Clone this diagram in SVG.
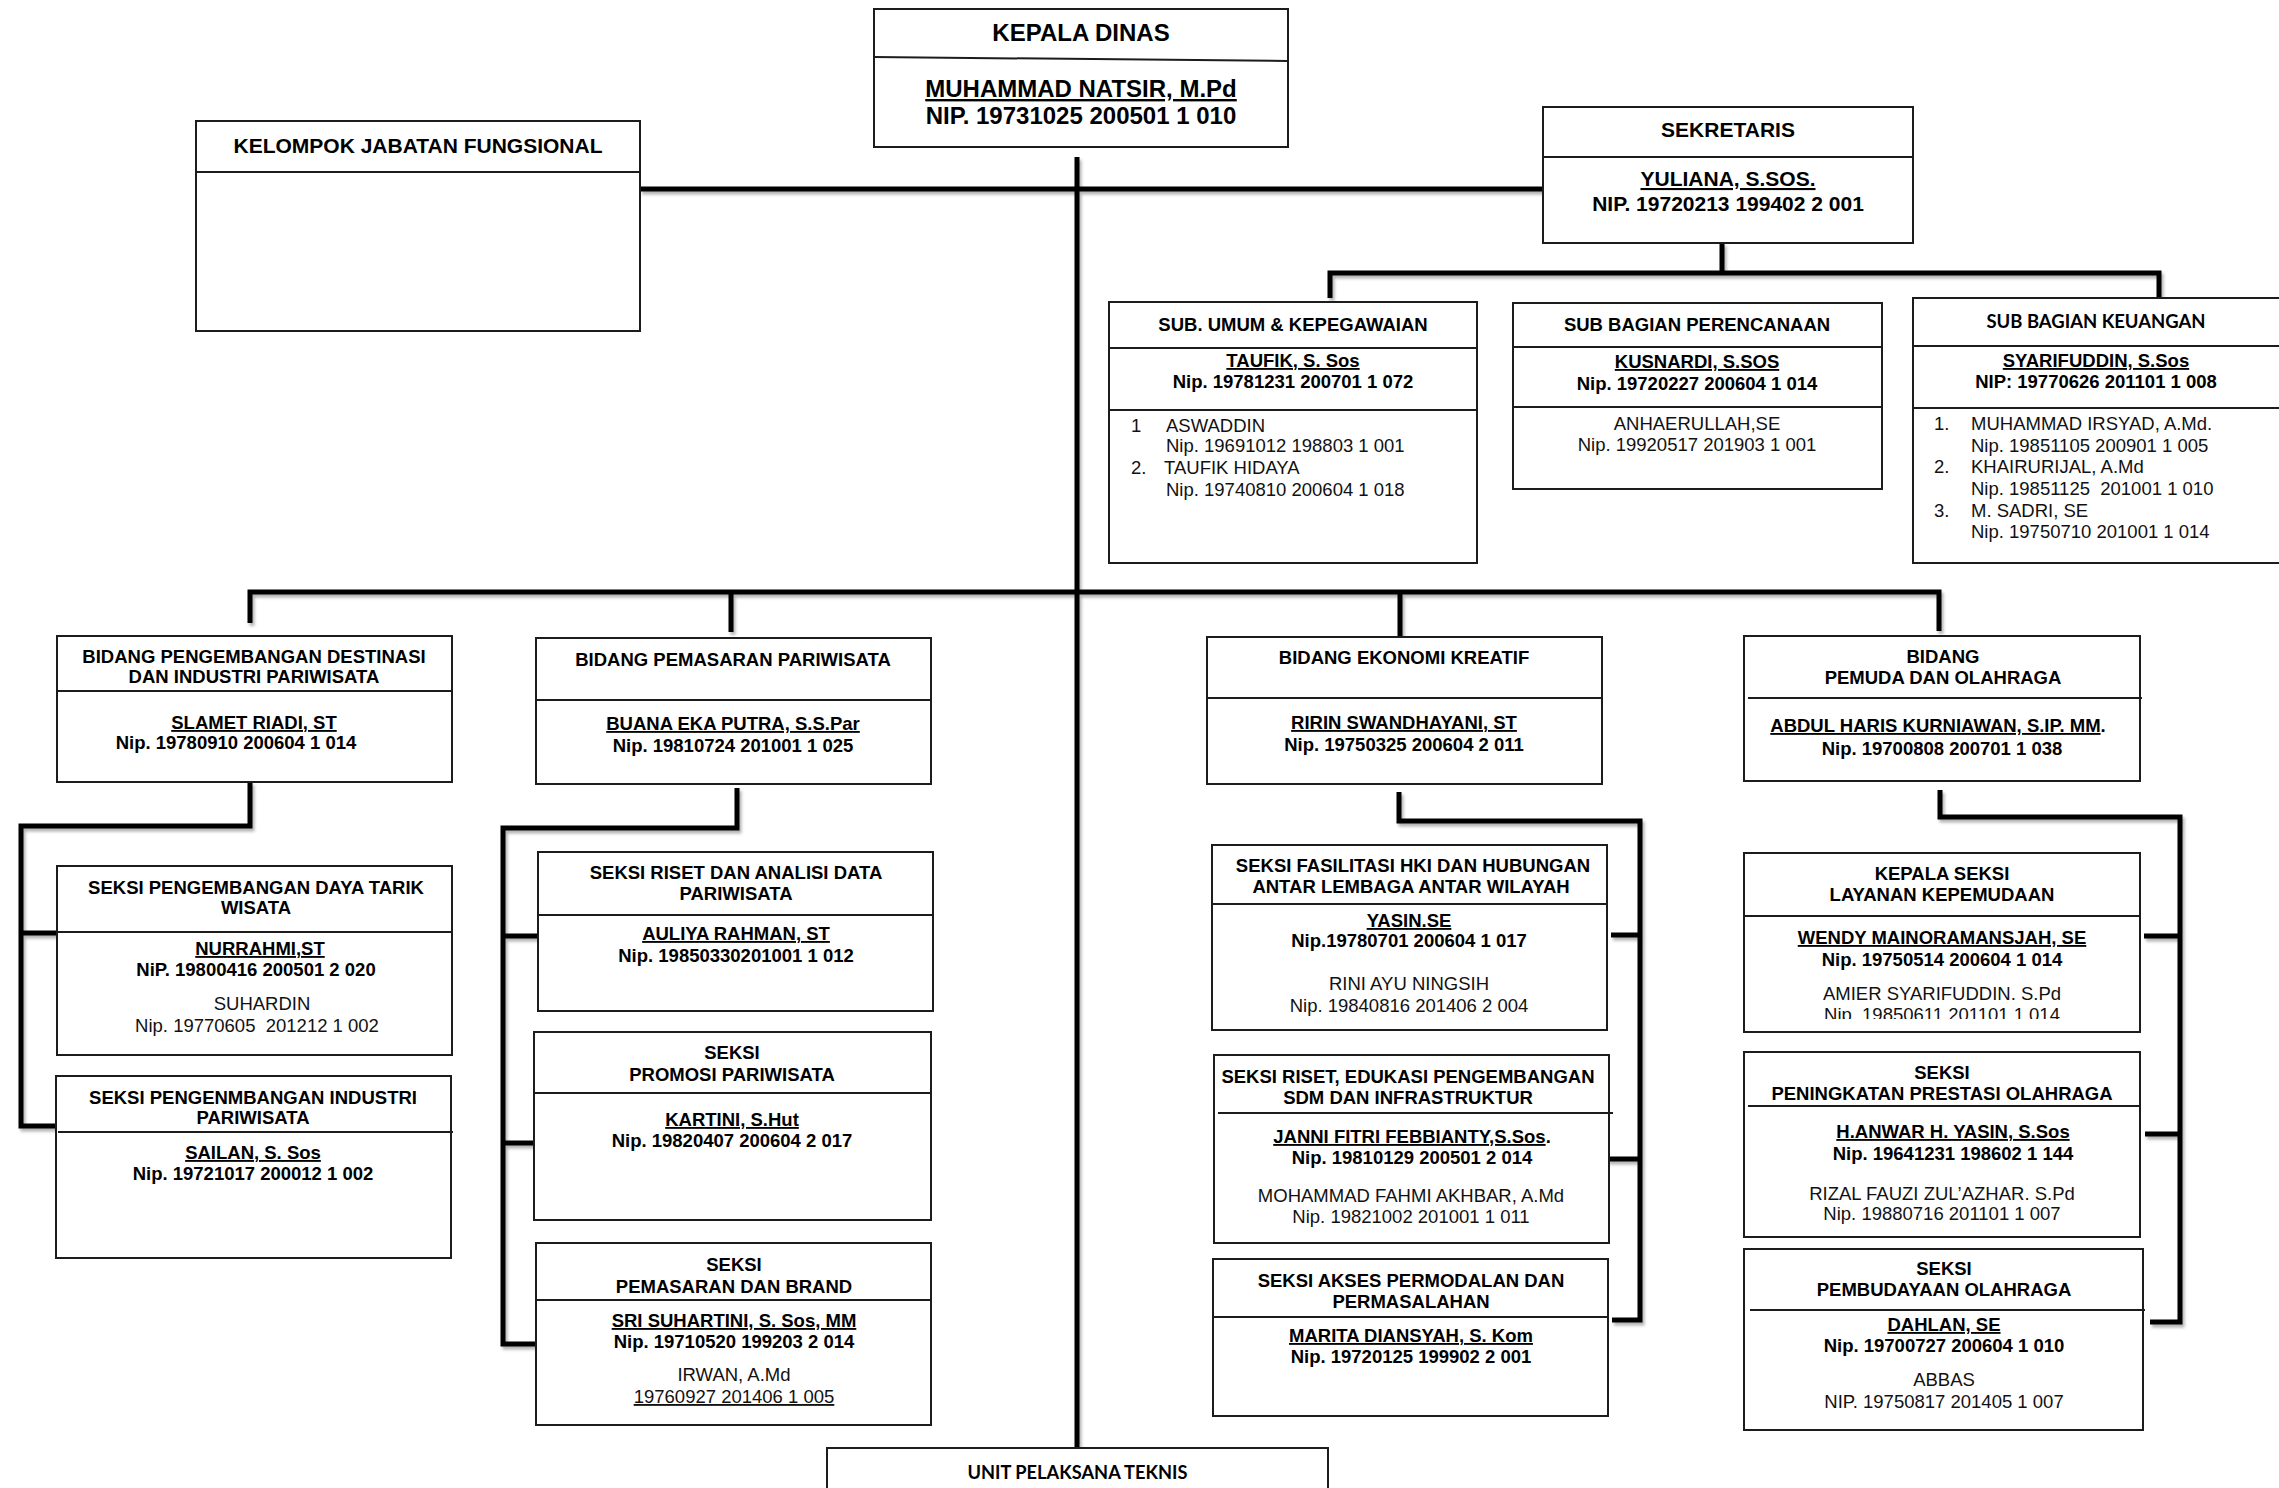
<svg xmlns="http://www.w3.org/2000/svg" width="2279" height="1488" viewBox="0 0 2279 1488">
<defs>
<style>
text{font-family:"Liberation Sans",Arial,sans-serif;fill:#000;text-anchor:middle}
.b{font-weight:bold;font-size:18.5px}
.r{font-weight:normal;font-size:18.5px;fill:#111}
.l{text-anchor:start}
.u{text-decoration:underline}
.pre{white-space:pre}
.box{fill:#fff;stroke:#1c1c1c;stroke-width:2}
.dv{stroke:#1c1c1c;stroke-width:2}
.con{fill:none;stroke:#000;stroke-width:5;stroke-linejoin:miter}
.cal{font-family:Lato,"Liberation Sans",sans-serif;font-weight:bold}
</style>
<filter id="sh" filterUnits="userSpaceOnUse" x="0" y="0" width="2279" height="1488">
<feDropShadow dx="2" dy="3" stdDeviation="1.5" flood-color="#000" flood-opacity="0.3"/>
</filter>
<clipPath id="clipAmier"><rect x="1744" y="853" width="396" height="166"/></clipPath>
</defs>
<rect x="0" y="0" width="2279" height="1488" fill="#fff"/>

<g id="connectors" class="con" filter="url(#sh)">
<path d="M1077 157 V1448"/>
<path d="M640 189 H1543"/>
<path d="M1722 243 V273"/>
<path d="M1330 298 V273 H2159 V298"/>
<path d="M250 623 V592 H1939 V631"/>
<path d="M731 592 V632"/>
<path d="M1400 592 V639"/>
<path d="M250 782 V826 H21 V1126 H57"/>
<path d="M21 933 H57"/>
<path d="M737 788 V828 H503 V1344 H540"/>
<path d="M503 936 H538"/>
<path d="M503 1143 H534"/>
<path d="M1399 792 V821 H1640 V1320 H1612"/>
<path d="M1640 935 H1611"/>
<path d="M1640 1159 H1607"/>
<path d="M1940 790 V817 H2180 V1322 H2150"/>
<path d="M2180 936 H2144"/>
<path d="M2180 1134 H2145"/>
</g>

<g id="kepala-dinas">
<rect class="box" x="874" y="9" width="414" height="138"/>
<line class="dv" x1="874" y1="57" x2="1288" y2="61"/>
<text x="1081" y="41" style="font-size:24px;font-weight:bold">KEPALA DINAS</text>
<text class="u" x="1081" y="97" style="font-size:24px;font-weight:bold">MUHAMMAD NATSIR, M.Pd</text>
<text x="1081" y="124" style="font-size:24px;font-weight:bold">NIP. 19731025 200501 1 010</text>
</g>

<g id="kelompok-jabatan-fungsional">
<rect class="box" x="196" y="121" width="444" height="210"/>
<line class="dv" x1="196" y1="172" x2="640" y2="172"/>
<text x="418" y="153" style="font-size:21px;font-weight:bold">KELOMPOK JABATAN FUNGSIONAL</text>
</g>

<g id="sekretaris">
<rect class="box" x="1543" y="107" width="370" height="136"/>
<line class="dv" x1="1543" y1="157" x2="1913" y2="157"/>
<text x="1728" y="137" style="font-size:21px;font-weight:bold">SEKRETARIS</text>
<text class="u" x="1728" y="186" style="font-size:21px;font-weight:bold">YULIANA, S.SOS.</text>
<text x="1728" y="211" style="font-size:21px;font-weight:bold">NIP. 19720213 199402 2 001</text>
</g>

<g id="sub-umum-kepegawaian">
<rect class="box" x="1109" y="302" width="368" height="261"/>
<line class="dv" x1="1109" y1="348" x2="1477" y2="348"/>
<line class="dv" x1="1109" y1="410" x2="1477" y2="410"/>
<text class="b" x="1293" y="331">SUB. UMUM &amp; KEPEGAWAIAN</text>
<text class="b u" x="1293" y="367">TAUFIK, S. Sos</text>
<text class="b" x="1293" y="388">Nip. 19781231 200701 1 072</text>
<text class="r l" x="1131" y="432">1</text>
<text class="r l" x="1166" y="432">ASWADDIN</text>
<text class="r l" x="1166" y="452">Nip. 19691012 198803 1 001</text>
<text class="r l" x="1131" y="474">2.</text>
<text class="r l" x="1164" y="474">TAUFIK HIDAYA</text>
<text class="r l" x="1166" y="496">Nip. 19740810 200604 1 018</text>
</g>

<g id="sub-bagian-perencanaan">
<rect class="box" x="1513" y="303" width="369" height="186"/>
<line class="dv" x1="1513" y1="347" x2="1882" y2="347"/>
<line class="dv" x1="1513" y1="407" x2="1882" y2="407"/>
<text class="b" x="1697" y="331">SUB BAGIAN PERENCANAAN</text>
<text class="b u" x="1697" y="368">KUSNARDI, S.SOS</text>
<text class="b" x="1697" y="390">Nip. 19720227 200604 1 014</text>
<text class="r" x="1697" y="430">ANHAERULLAH,SE</text>
<text class="r" x="1697" y="451">Nip. 19920517 201903 1 001</text>
</g>

<g id="sub-bagian-keuangan">
<rect class="box" x="1913" y="298" width="380" height="265"/>
<line class="dv" x1="1913" y1="346" x2="2279" y2="346"/>
<line class="dv" x1="1913" y1="408" x2="2279" y2="408"/>
<text class="cal" x="2096" y="328" style="font-size:19px" textLength="219" lengthAdjust="spacingAndGlyphs">SUB BAGIAN KEUANGAN</text>
<text class="b u" x="2096" y="367">SYARIFUDDIN, S.Sos</text>
<text class="b" x="2096" y="388">NIP: 19770626 201101 1 008</text>
<text class="r l" x="1934" y="430">1.</text>
<text class="r l" x="1971" y="430">MUHAMMAD IRSYAD, A.Md.</text>
<text class="r l" x="1971" y="452">Nip. 19851105 200901 1 005</text>
<text class="r l" x="1934" y="473">2.</text>
<text class="r l" x="1971" y="473">KHAIRURIJAL, A.Md</text>
<text class="r l pre" x="1971" y="495">Nip. 19851125  201001 1 010</text>
<text class="r l" x="1934" y="517">3.</text>
<text class="r l" x="1971" y="517">M. SADRI, SE</text>
<text class="r l" x="1971" y="538">Nip. 19750710 201001 1 014</text>
</g>

<g id="bidang-pengembangan-destinasi">
<rect class="box" x="57" y="636" width="395" height="146"/>
<line class="dv" x1="57" y1="691" x2="452" y2="691"/>
<text class="b" x="254" y="663">BIDANG PENGEMBANGAN DESTINASI</text>
<text class="b" x="254" y="683">DAN INDUSTRI PARIWISATA</text>
<text class="b u" x="254" y="729">SLAMET RIADI, ST</text>
<text class="b" x="236" y="749">Nip. 19780910 200604 1 014</text>
</g>

<g id="seksi-daya-tarik-wisata">
<rect class="box" x="57" y="866" width="395" height="189"/>
<line class="dv" x1="57" y1="932" x2="452" y2="932"/>
<text class="b" x="256" y="894">SEKSI PENGEMBANGAN DAYA TARIK</text>
<text class="b" x="256" y="914">WISATA</text>
<text class="b u" x="260" y="955">NURRAHMI,ST</text>
<text class="b" x="256" y="976">NiP. 19800416 200501 2 020</text>
<text class="r" x="262" y="1010">SUHARDIN</text>
<text class="r pre" x="257" y="1032">Nip. 19770605  201212 1 002</text>
</g>

<g id="seksi-industri-pariwisata">
<rect class="box" x="56" y="1076" width="395" height="182"/>
<line class="dv" x1="58" y1="1132" x2="453" y2="1132"/>
<text class="b" x="253" y="1104">SEKSI PENGENMBANGAN INDUSTRI</text>
<text class="b" x="253" y="1124">PARIWISATA</text>
<text class="b u" x="253" y="1159">SAILAN, S. Sos</text>
<text class="b" x="253" y="1180">Nip. 19721017 200012 1 002</text>
</g>

<g id="bidang-pemasaran-pariwisata">
<rect class="box" x="536" y="638" width="395" height="146"/>
<line class="dv" x1="536" y1="700" x2="931" y2="700"/>
<text class="b" x="733" y="666">BIDANG PEMASARAN PARIWISATA</text>
<text class="b u" x="733" y="730">BUANA EKA PUTRA, S.S.Par</text>
<text class="b" x="733" y="752">Nip. 19810724 201001 1 025</text>
</g>

<g id="seksi-riset-analisi-data">
<rect class="box" x="538" y="852" width="395" height="159"/>
<line class="dv" x1="538" y1="915" x2="934" y2="915"/>
<text class="b" x="736" y="879">SEKSI RISET DAN ANALISI DATA</text>
<text class="b" x="736" y="900">PARIWISATA</text>
<text class="b u" x="736" y="940">AULIYA RAHMAN, ST</text>
<text class="b" x="736" y="962">Nip. 19850330201001 1 012</text>
</g>

<g id="seksi-promosi-pariwisata">
<rect class="box" x="534" y="1032" width="397" height="188"/>
<line class="dv" x1="534" y1="1093" x2="931" y2="1093"/>
<text class="b" x="732" y="1059">SEKSI</text>
<text class="b" x="732" y="1081">PROMOSI PARIWISATA</text>
<text class="b u" x="732" y="1126">KARTINI, S.Hut</text>
<text class="b" x="732" y="1147">Nip. 19820407 200604 2 017</text>
</g>

<g id="seksi-pemasaran-brand">
<rect class="box" x="536" y="1243" width="395" height="182"/>
<line class="dv" x1="536" y1="1300" x2="931" y2="1300"/>
<text class="b" x="734" y="1271">SEKSI</text>
<text class="b" x="734" y="1293">PEMASARAN DAN BRAND</text>
<text class="b u" x="734" y="1327">SRI SUHARTINI, S. Sos, MM</text>
<text class="b" x="734" y="1348">Nip. 19710520 199203 2 014</text>
<text class="r" x="734" y="1381">IRWAN, A.Md</text>
<text class="r u" x="734" y="1403">19760927 201406 1 005</text>
</g>

<g id="bidang-ekonomi-kreatif">
<rect class="box" x="1207" y="637" width="395" height="147"/>
<line class="dv" x1="1207" y1="698" x2="1602" y2="698"/>
<text class="b" x="1404" y="664">BIDANG EKONOMI KREATIF</text>
<text class="b u" x="1404" y="729">RIRIN SWANDHAYANI, ST</text>
<text class="b" x="1404" y="751">Nip. 19750325 200604 2 011</text>
</g>

<g id="seksi-fasilitasi-hki">
<rect class="box" x="1212" y="845" width="395" height="185"/>
<line class="dv" x1="1212" y1="904" x2="1608" y2="904"/>
<text class="b" x="1413" y="872">SEKSI FASILITASI HKI DAN HUBUNGAN</text>
<text class="b" x="1411" y="893">ANTAR LEMBAGA ANTAR WILAYAH</text>
<text class="b u" x="1409" y="927">YASIN.SE</text>
<text class="b" x="1409" y="947">Nip.19780701 200604 1 017</text>
<text class="r" x="1409" y="990">RINI AYU NINGSIH</text>
<text class="r" x="1409" y="1012">Nip. 19840816 201406 2 004</text>
</g>

<g id="seksi-riset-edukasi">
<rect class="box" x="1214" y="1055" width="395" height="188"/>
<line class="dv" x1="1218" y1="1113" x2="1613" y2="1113"/>
<text class="b" x="1408" y="1083">SEKSI RISET, EDUKASI PENGEMBANGAN</text>
<text class="b" x="1408" y="1104">SDM DAN INFRASTRUKTUR</text>
<text class="b" x="1412" y="1143"><tspan class="u">JANNI FITRI FEBBIANTY,S.Sos</tspan>.</text>
<text class="b" x="1412" y="1164">Nip. 19810129 200501 2 014</text>
<text class="r" x="1411" y="1202">MOHAMMAD FAHMI AKHBAR, A.Md</text>
<text class="r" x="1411" y="1223">Nip. 19821002 201001 1 011</text>
</g>

<g id="seksi-akses-permodalan">
<rect class="box" x="1213" y="1259" width="395" height="157"/>
<line class="dv" x1="1213" y1="1317" x2="1608" y2="1317"/>
<text class="b" x="1411" y="1287">SEKSI AKSES PERMODALAN DAN</text>
<text class="b" x="1411" y="1308">PERMASALAHAN</text>
<text class="b u" x="1411" y="1342">MARITA DIANSYAH, S. Kom</text>
<text class="b" x="1411" y="1363">Nip. 19720125 199902 2 001</text>
</g>

<g id="bidang-pemuda-olahraga">
<rect class="box" x="1744" y="636" width="396" height="145"/>
<line class="dv" x1="1748" y1="698" x2="2142" y2="698"/>
<text class="b" x="1943" y="663">BIDANG</text>
<text class="b" x="1943" y="684">PEMUDA DAN OLAHRAGA</text>
<text class="b" x="1938" y="732"><tspan class="u">ABDUL HARIS KURNIAWAN, S.IP. MM</tspan>.</text>
<text class="b" x="1942" y="755">Nip. 19700808 200701 1 038</text>
</g>

<g id="seksi-layanan-kepemudaan">
<rect class="box" x="1744" y="853" width="396" height="179"/>
<line class="dv" x1="1744" y1="916" x2="2140" y2="916"/>
<text class="b" x="1942" y="880">KEPALA SEKSI</text>
<text class="b" x="1942" y="901">LAYANAN KEPEMUDAAN</text>
<text class="b u" x="1942" y="944">WENDY MAINORAMANSJAH, SE</text>
<text class="b" x="1942" y="966">Nip. 19750514 200604 1 014</text>
<g clip-path="url(#clipAmier)">
<text class="r" x="1942" y="1000">AMIER SYARIFUDDIN. S.Pd</text>
<text class="r" x="1942" y="1021">Nip. 19850611 201101 1 014</text>
</g>
</g>

<g id="seksi-prestasi-olahraga">
<rect class="box" x="1744" y="1052" width="396" height="185"/>
<line class="dv" x1="1748" y1="1106" x2="2141" y2="1106"/>
<text class="b" x="1942" y="1079">SEKSI</text>
<text class="b" x="1942" y="1100">PENINGKATAN PRESTASI OLAHRAGA</text>
<text class="b u" x="1953" y="1138">H.ANWAR H. YASIN, S.Sos</text>
<text class="b" x="1953" y="1160">Nip. 19641231 198602 1 144</text>
<text class="r" x="1942" y="1200">RIZAL FAUZI ZUL’AZHAR. S.Pd</text>
<text class="r" x="1942" y="1220">Nip. 19880716 201101 1 007</text>
</g>

<g id="seksi-pembudayaan-olahraga">
<rect class="box" x="1744" y="1249" width="399" height="181"/>
<line class="dv" x1="1750" y1="1310" x2="2145" y2="1310"/>
<text class="b" x="1944" y="1275">SEKSI</text>
<text class="b" x="1944" y="1296">PEMBUDAYAAN OLAHRAGA</text>
<text class="b u" x="1944" y="1331">DAHLAN, SE</text>
<text class="b" x="1944" y="1352">Nip. 19700727 200604 1 010</text>
<text class="r" x="1944" y="1386">ABBAS</text>
<text class="r" x="1944" y="1408">NIP. 19750817 201405 1 007</text>
</g>

<g id="unit-pelaksana-teknis">
<rect class="box" x="827" y="1448" width="501" height="60"/>
<text class="cal" x="1077.5" y="1479" style="font-size:18.6px" textLength="220" lengthAdjust="spacingAndGlyphs">UNIT PELAKSANA TEKNIS</text>
</g>
</svg>
